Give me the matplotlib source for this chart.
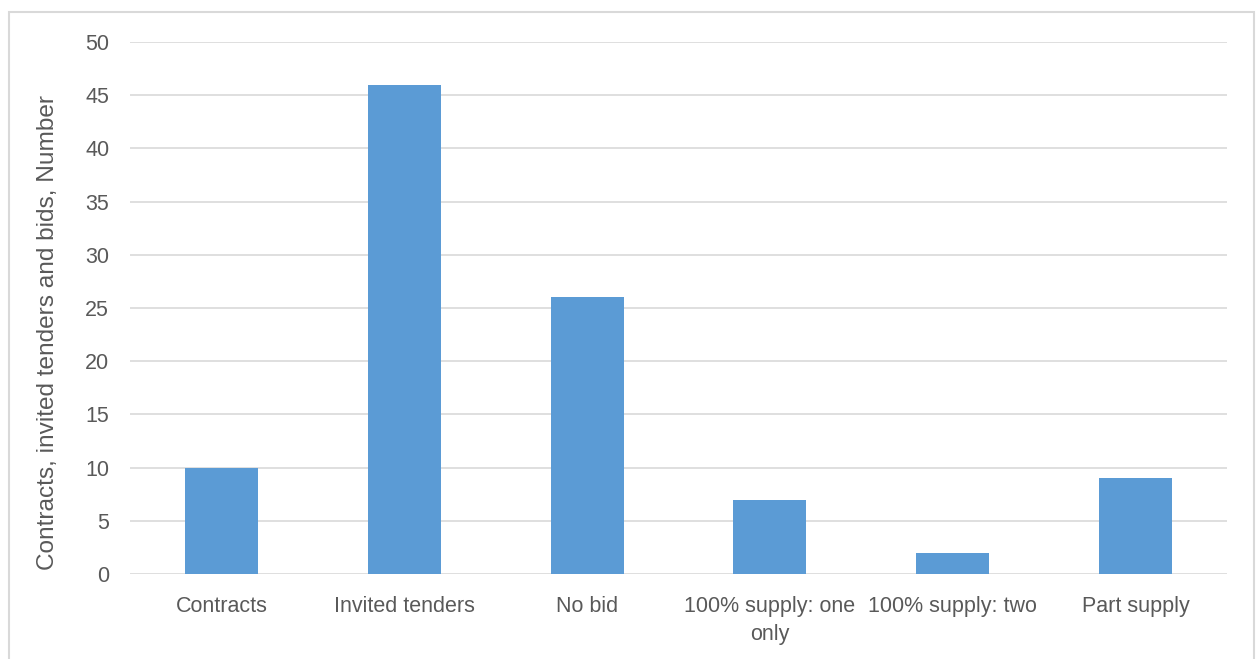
import matplotlib
matplotlib.use('Agg')
import matplotlib.pyplot as plt
from matplotlib.patches import Rectangle

# data
categories = ['Contracts', 'Invited tenders', 'No bid',
              '100% supply: one\nonly', '100% supply: two', 'Part supply']
values = [10, 46, 26, 7, 2, 9]
y_ticks = [0, 5, 10, 15, 20, 25, 30, 35, 40, 45, 50]
y_label = 'Contracts, invited tenders and bids, Number'

plt.rcParams['font.family'] = ['Liberation Sans', 'DejaVu Sans']

W, H = 1258, 659
fig = plt.figure(figsize=(W / 100, H / 100), dpi=100)
ax = fig.add_axes([130 / W, 1 - 574 / H, (1227 - 130) / W, (574 - 42) / H])

x = range(len(categories))
ax.bar(x, values, width=0.4, color='#5B9BD5', zorder=3)

ax.set_xlim(-0.5, len(categories) - 0.5)
ax.set_ylim(0, 50)
ax.set_yticks(y_ticks)
ax.set_xticks(list(x))
ax.set_xticklabels(categories, linespacing=1.45)
ax.grid(True, axis='y', color='#D9D9D9', linewidth=1.2, zorder=0)
for sp in ax.spines.values():
    sp.set_visible(False)
ax.tick_params(axis='both', length=0, labelsize=15.5, labelcolor='#595959')
ax.tick_params(axis='y', pad=15)
ax.tick_params(axis='x', pad=16)

fig.text(48 / W, 1 - 333 / H, y_label, rotation=90, ha='center', va='center',
         fontsize=17.6, color='#595959')

# chart border
fig.patches.append(Rectangle((9 / W, -0.05), (1254 - 9) / W, 1.05 - 12 / H,
                             transform=fig.transFigure, fill=False,
                             edgecolor='#D9D9D9', linewidth=1.5))

fig.savefig('out.png', dpi=100)
